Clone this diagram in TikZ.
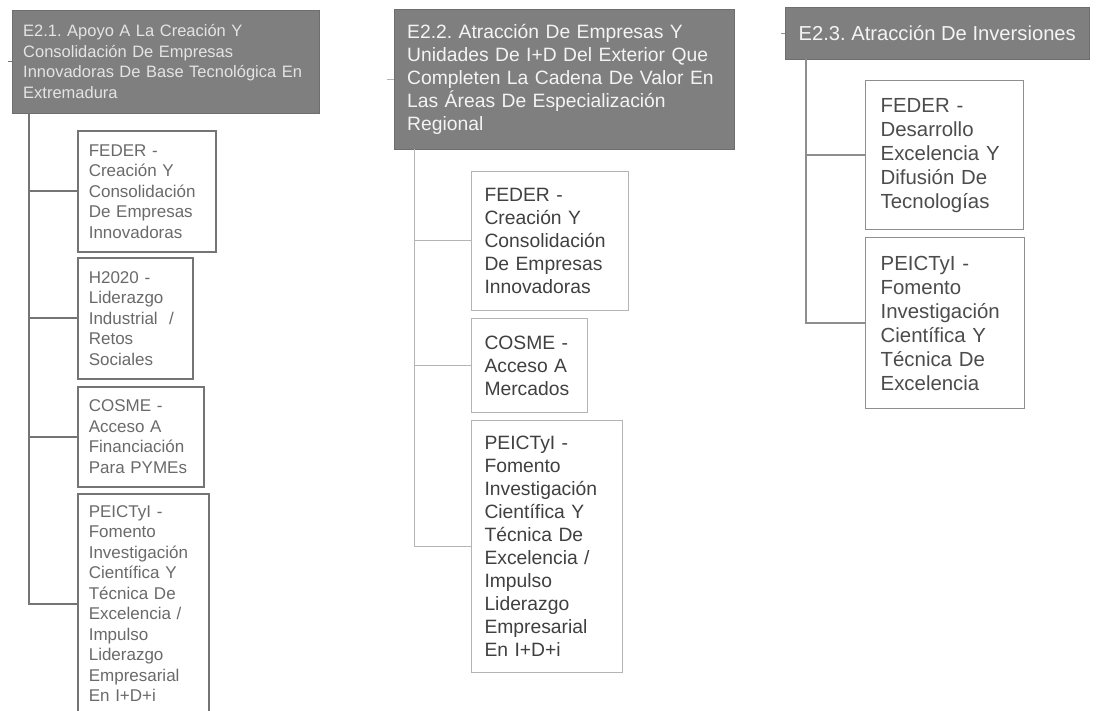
\documentclass[tikz,border=0pt]{standalone}
\usepackage{fontspec}
\setmainfont{Liberation Sans}
\usetikzlibrary{positioning,calc}
\frenchspacing
\hyphenpenalty=10000
\definecolor{hdrgray}{HTML}{7F7F7F}
\definecolor{hdrline}{HTML}{6E6E6E}
\definecolor{hdrtxtA}{HTML}{E4E4E4}
\definecolor{hdrtxtB}{HTML}{F4F4F4}
\definecolor{lineA}{HTML}{747474}
\definecolor{lineB}{HTML}{B4B4B4}
\definecolor{lineC}{HTML}{8E8E8E}
\definecolor{txtA}{HTML}{6A6A6A}
\definecolor{txtB}{HTML}{404040}
\definecolor{txtC}{HTML}{4C4C4C}
\tikzset{
  hdr/.style={draw=hdrline,fill=hdrgray,anchor=north west,inner ysep=0pt,align=left},
  itm/.style={draw,fill=white,anchor=north west,inner ysep=0pt,align=left},
  hdrA/.style={hdr,text=hdrtxtA,font=\fontsize{16.5}{20.5}\selectfont,inner xsep=11pt},
  hdrB/.style={hdr,text=hdrtxtB,font=\fontsize{19.3}{23}\selectfont,inner xsep=13pt},
  hdrC/.style={hdr,text=hdrtxtB,font=\fontsize{20.2}{24}\selectfont,inner xsep=12pt},
  itmA/.style={itm,draw=lineA,line width=1.6pt,text=txtA,font=\fontsize{17}{20.5}\selectfont,inner xsep=11pt},
  itmB/.style={itm,draw=lineB,line width=1pt,text=txtB,font=\fontsize{19.3}{23}\selectfont,inner xsep=13pt},
  itmC/.style={itm,draw=lineC,line width=1.3pt,text=txtC,font=\fontsize{20.4}{24}\selectfont,inner xsep=15pt},
  lnkA/.style={draw=lineA,line width=1.6pt},
  lnkB/.style={draw=lineB,line width=1pt},
  lnkC/.style={draw=lineC,line width=1.3pt}
}
\begin{document}
\begin{tikzpicture}[x=1pt,y=-1pt]
  \clip (0,0) rectangle (1098,711);
  \fill[white] (0,0) rectangle (1098,711);

  % E2.1 column
  \node[hdrA, text width=285, minimum height=103] (e21) at (12,10)
    {E2.1. Apoyo A La Creación Y\\Consolidación De Empresas\\Innovadoras De Base Tecnológica En\\Extremadura};
  \node[itmA, text width=116, minimum height=121] (e21a) at (77,130)
    {FEDER -\\Creación Y\\Consolidación\\De Empresas\\Innovadoras};
  \node[itmA, text width=93, minimum height=121] (e21b) at (77,257)
    {H2020 -\\Liderazgo\\Industrial~ /\\Retos\\Sociales};
  \node[itmA, text width=104, minimum height=100] (e21c) at (77,386)
    {COSME -\\Acceso A\\Financiación\\Para PYMEs};
  \node[itmA, text width=109, minimum height=220] (e21d) at (77,493)
    {PEICTyI -\\Fomento\\Investigación\\Científica Y\\Técnica De\\Excelencia /\\Impulso\\Liderazgo\\Empresarial\\En I+D+i};
  \draw[lnkA] (e21.west) -- ++(-4,0);
  \foreach \b in {e21a,e21b,e21c,e21d}
    \draw[lnkA] ([xshift=17]e21.south west) |- (\b.west);

  % E2.2 column
  \node[hdrB, text width=314, minimum height=140] (e22) at (394,9)
    {E2.2. Atracción De Empresas Y\\Unidades De I+D Del Exterior Que\\Completen La Cadena De Valor En\\Las Áreas De Especialización\\Regional};
  \node[itmB, text width=131, minimum height=139] (e22a) at (471,171)
    {FEDER -\\Creación Y\\Consolidación\\De Empresas\\Innovadoras};
  \node[itmB, text width=90, minimum height=94] (e22b) at (471,318)
    {COSME -\\Acceso A\\Mercados};
  \node[itmB, text width=125, minimum height=252] (e22c) at (471,420)
    {PEICTyI -\\Fomento\\Investigación\\Científica Y\\Técnica De\\Excelencia /\\Impulso\\Liderazgo\\Empresarial\\En I+D+i};
  \draw[lnkB] (e22.west) -- ++(-7,0);
  \foreach \b in {e22a,e22b,e22c}
    \draw[lnkB] ([xshift=20]e22.south west) |- (\b.west);

  % E2.3 column
  \node[hdrC, minimum width=304, minimum height=52] (e23) at (785,7)
    {E2.3. Atracción De Inversiones};
  \node[itmC, text width=128, minimum height=149] (e23a) at (865,80)
    {FEDER -\\Desarrollo\\Excelencia Y\\Difusión De\\Tecnologías};
  \node[itmC, text width=129, minimum height=171] (e23b) at (865,237)
    {PEICTyI -\\Fomento\\Investigación\\Científica Y\\Técnica De\\Excelencia};
  \draw[lnkC] (e23.west) -- ++(-4,0);
  \foreach \b in {e23a,e23b}
    \draw[lnkC] ([xshift=21]e23.south west) |- (\b.west);
\end{tikzpicture}
\end{document}
